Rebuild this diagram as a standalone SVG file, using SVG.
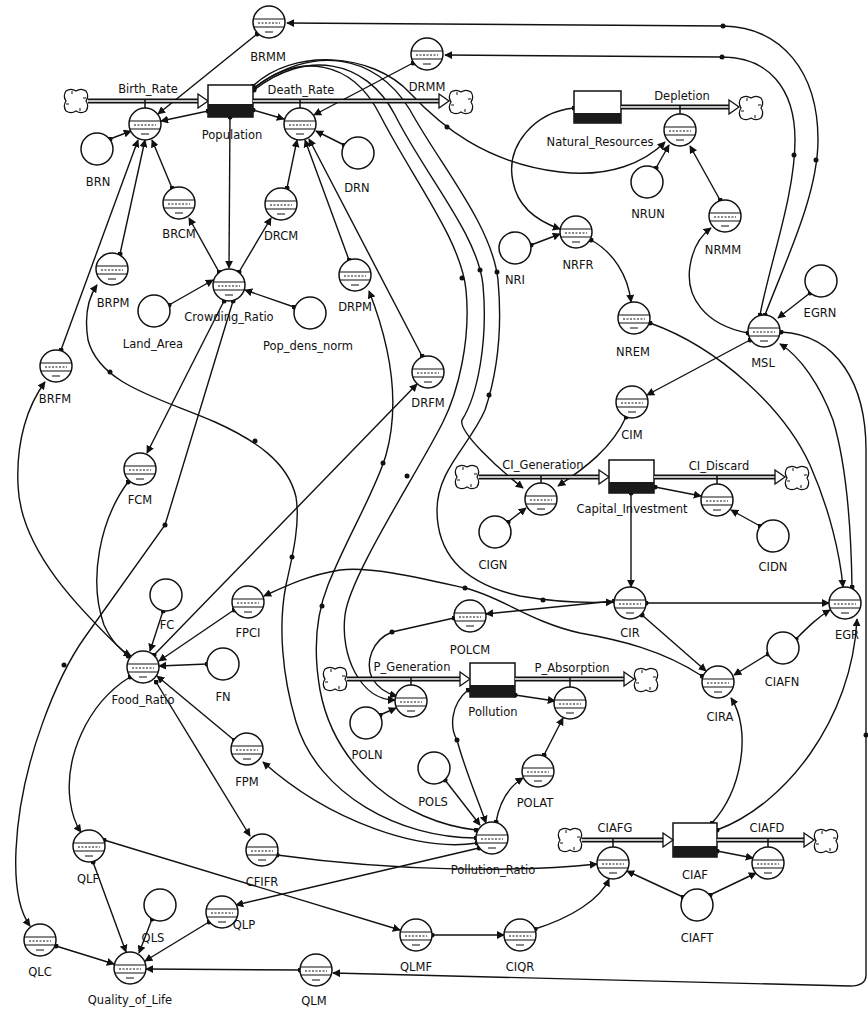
<svg xmlns="http://www.w3.org/2000/svg" xmlns:xlink="http://www.w3.org/1999/xlink" width="868" height="1018" viewBox="0 0 868 1018">
<style>
text{font-family:"DejaVu Sans",sans-serif;font-size:11.5px;fill:#111;text-anchor:middle}
.c{fill:none;stroke:#111;stroke-width:1.4;marker-start:url(#od);marker-end:url(#ah)}
.pipe{fill:none;stroke:#111;stroke-width:5}
.pipei{fill:none;stroke:#fff;stroke-width:1.3}
.fa{fill:#fff;stroke:#111;stroke-width:1.3}
.stem{stroke:#111;stroke-width:1.5}
.st{fill:#fff;stroke:#111;stroke-width:1.5}
.sd{fill:#1a1a1a}
.dot{fill:#111}
</style>
<defs>
<marker id="ah" viewBox="0 0 10 10" refX="9" refY="5" markerWidth="8" markerHeight="8" markerUnits="userSpaceOnUse" orient="auto"><path d="M0,0L10,5L0,10z" fill="#111"/></marker>
<marker id="od" viewBox="0 0 6 6" refX="3" refY="3" markerWidth="5" markerHeight="5" markerUnits="userSpaceOnUse"><circle cx="3" cy="3" r="3" fill="#111"/></marker>
<g id="gc"><circle r="16" fill="#fff" stroke="#111" stroke-width="1.5"/><path d="M-15,-3H15M-15,5H15M-4,10H4" stroke="#111" stroke-width="1.1" fill="none"/><path d="M-11,1H11" stroke="#111" stroke-width="1.1" stroke-dasharray="2 1.5"/></g>
<g id="pc"><circle r="16" fill="#fff" stroke="#111" stroke-width="1.5"/></g>
<g id="cl"><path d="M-10,-10A9,9 0 0 1 0,-10A9,9 0 0 1 10,-10A9,9 0 0 1 10,0A9,9 0 0 1 10,10A9,9 0 0 1 0,10A9,9 0 0 1 -10,10A9,9 0 0 1 -10,0A9,9 0 0 1 -10,-10Z" fill="#fff" stroke="#111" stroke-width="1.3"/><path d="M-4,-10V-7M4,10V7M10,-3H7M-10,3H-7" stroke="#111" stroke-width="1"/></g>
</defs>
<rect width="868" height="1018" fill="#fff"/>

<g id="connectors">
<path class="c" d="M257,34L158,114"/>
<path class="c" d="M765,315C785,262 818,195 818,140C818,72 782,27 723,26L287,23"/>
<path class="c" d="M760,315C770,262 795,195 795,140C795,88 768,57 722,57L445,55"/>
<path class="c" d="M208,111L161,121"/>
<path class="c" d="M110,139L131,131"/>
<path class="c" d="M61,350L138,140"/>
<path class="c" d="M120,254L145,140"/>
<path class="c" d="M172,188L152,140"/>
<path class="c" d="M253,110L284,119"/>
<path class="c" d="M413,63L314,115"/>
<path class="c" d="M344,145L316,131"/>
<path class="c" d="M287,188L297,140"/>
<path class="c" d="M349,260L305,140"/>
<path class="c" d="M422,356L309,139"/>
<path class="c" d="M230,117L229,268"/>
<path class="c" d="M169,305L213,280"/>
<path class="c" d="M294,307L245,290"/>
<path class="c" d="M219,272L189,218"/>
<path class="c" d="M239,272L271,218"/>
<path class="c" d="M224,301L147,453"/>
<path class="c" d="M233,301L165,525L85,637C60,672 20,760 16,850C14,895 22,915 30,926"/>
<path class="c" d="M128,656C80,610 20,550 18,485C16,440 28,405 45,382"/>
<path class="c" d="M476,838C400,838 318,795 296,722C282,675 278,625 286,585C294,550 300,522 296,497C288,462 255,440 215,422C160,398 100,385 88,340C84,315 88,298 97,285"/>
<path class="c" d="M476,830C405,822 335,770 320,690C313,650 316,615 328,585C348,535 375,492 386,455C398,412 396,360 369,291"/>
<path class="c" d="M253,86C292,48 372,52 410,93C440,125 485,163 560,172C610,178 645,162 665,142"/>
<path class="c" d="M254,88C300,52 352,60 380,115C414,181 461,240 466,290C471,340 458,392 443,422C418,472 350,575 345,615C340,655 360,700 395,700"/>
<path class="c" d="M254,90C305,50 365,58 395,115C425,175 478,235 483,285C488,340 478,395 462,420C458,432 500,470 523,488"/>
<path class="c" d="M254,88C310,45 375,52 410,110C440,165 492,225 498,280C503,335 495,380 485,410C470,445 437,470 437,510C437,560 470,585 520,596C560,603 590,603 613,602"/>
<path class="c" d="M574,108C535,112 505,145 513,182C518,208 540,222 560,229"/>
<path class="c" d="M531,245L560,234"/>
<path class="c" d="M591,240C613,252 628,275 631,302"/>
<path class="c" d="M656,168L669,145"/>
<path class="c" d="M720,200L690,146"/>
<path class="c" d="M748,333C705,325 685,297 690,266C693,247 700,236 711,228"/>
<path class="c" d="M810,293L778,318"/>
<path class="c" d="M750,340L647,395"/>
<path class="c" d="M650,323C720,348 785,410 810,465C830,510 840,555 843,587"/>
<path class="c" d="M852,587C851,520 845,460 833,420C820,385 800,356 780,344"/>
<path class="c" d="M781,332C838,335 866,385 866,450L866,975C866,983 860,986 850,986L333,973"/>
<path class="c" d="M655,487L701,496"/>
<path class="c" d="M760,526L731,510"/>
<path class="c" d="M508,522L526,508"/>
<path class="c" d="M626,417C612,448 585,468 558,486"/>
<path class="c" d="M631,493L631,587"/>
<path class="c" d="M646,603L829,603"/>
<path class="c" d="M614,601L486,614"/>
<path class="c" d="M642,615L706,671"/>
<path class="c" d="M768,654L734,675"/>
<path class="c" d="M702,676C662,650 620,640 580,633C530,622 500,596 465,588C420,578 370,566 340,570C310,575 290,584 264,596"/>
<path class="c" d="M712,823C742,790 752,730 731,698"/>
<path class="c" d="M717,830C785,805 852,720 857,619"/>
<path class="c" d="M796,639C808,627 818,617 830,610"/>
<path class="c" d="M515,695L555,701"/>
<path class="c" d="M544,755L563,718"/>
<path class="c" d="M496,822C500,800 510,786 523,778"/>
<path class="c" d="M468,690C450,705 450,728 457,740C465,770 478,800 486,823"/>
<path class="c" d="M445,780L480,825"/>
<path class="c" d="M380,715L396,708"/>
<path class="c" d="M454,618L392,632C372,640 365,662 372,678C378,688 388,694 397,696"/>
<path class="c" d="M163,611L150,651"/>
<path class="c" d="M234,610L159,661"/>
<path class="c" d="M128,482C100,520 88,580 104,625C112,642 120,650 131,656"/>
<path class="c" d="M207,664L159,666"/>
<path class="c" d="M234,740L157,676"/>
<path class="c" d="M477,843C420,852 330,822 263,762"/>
<path class="c" d="M154,655L417,384"/>
<path class="c" d="M130,677C85,705 65,760 70,800C72,815 76,825 81,832"/>
<path class="c" d="M156,682L250,836"/>
<path class="c" d="M683,897L627,871"/>
<path class="c" d="M710,895L756,873"/>
<path class="c" d="M717,851L753,858"/>
<path class="c" d="M535,929C570,918 600,900 609,879"/>
<path class="c" d="M432,935L504,935"/>
<path class="c" d="M104,840L400,930"/>
<path class="c" d="M277,855C400,872 520,872 597,864"/>
<path class="c" d="M479,848L236,905"/>
<path class="c" d="M209,922L145,961"/>
<path class="c" d="M152,919L139,953"/>
<path class="c" d="M56,946L114,964"/>
<path class="c" d="M93,862L126,952"/>
<path class="c" d="M300,970L146,969"/>
<g class="dot">
<circle cx="723" cy="26" r="2.5"/><circle cx="816" cy="160" r="2.5"/>
<circle cx="722" cy="57" r="2.5"/><circle cx="794" cy="155" r="2.5"/>
<circle cx="165" cy="525" r="2.5"/><circle cx="64" cy="665" r="2.5"/>
<circle cx="110" cy="372" r="2.5"/><circle cx="255" cy="441" r="2.5"/><circle cx="292" cy="557" r="2.5"/>
<circle cx="383" cy="463" r="2.5"/><circle cx="322" cy="606" r="2.5"/>
<circle cx="447" cy="127" r="2.5"/>
<circle cx="462" cy="278" r="2.5"/><circle cx="407" cy="476" r="2.5"/>
<circle cx="480" cy="270" r="2.5"/>
<circle cx="497" cy="272" r="2.5"/><circle cx="489" cy="395" r="2.5"/><circle cx="543" cy="600" r="2.5"/>
<circle cx="465" cy="588" r="2.5"/><circle cx="392" cy="632" r="2.5"/>
<circle cx="457" cy="740" r="2.5"/><circle cx="866" cy="735" r="2.5"/>
</g>
</g>

<g id="BRMM"><use xlink:href="#gc" transform="translate(269,22)"/><text x="268" y="61">BRMM</text></g>
<g id="DRMM"><use xlink:href="#gc" transform="translate(427,54)"/><text x="427" y="91">DRMM</text></g>
<g id="Birth_Rate">
<path class="pipe" d="M88,101H200"/><path class="pipei" d="M88,101H200"/><path class="fa" d="M198,94L208,101L198,108Z"/>
<use xlink:href="#cl" transform="translate(76,101)"/>
<path class="stem" d="M145,99V108"/>
<use xlink:href="#gc" transform="translate(145,124)"/>
<text x="148" y="93">Birth_Rate</text></g>
<g id="Population"><rect class="st" x="208" y="85" width="45" height="32"/><rect class="sd" x="208" y="104" width="45" height="13"/><text x="232" y="139">Population</text></g>
<g id="Death_Rate">
<path class="pipe" d="M253,101H441"/><path class="pipei" d="M253,101H441"/><path class="fa" d="M439,94L449,101L439,108Z"/>
<use xlink:href="#cl" transform="translate(461,102)"/>
<path class="stem" d="M300,99V108"/>
<use xlink:href="#gc" transform="translate(300,124)"/>
<text x="301" y="94">Death_Rate</text></g>
<g id="BRN"><use xlink:href="#pc" transform="translate(97,149)"/><text x="98" y="186">BRN</text></g>
<g id="DRN"><use xlink:href="#pc" transform="translate(358,153)"/><text x="357" y="192">DRN</text></g>
<g id="BRCM"><use xlink:href="#gc" transform="translate(179,203)"/><text x="179" y="238">BRCM</text></g>
<g id="DRCM"><use xlink:href="#gc" transform="translate(281,204)"/><text x="281" y="240">DRCM</text></g>
<g id="Crowding_Ratio"><use xlink:href="#gc" transform="translate(229,285)"/><text x="229" y="321">Crowding_Ratio</text></g>
<g id="Land_Area"><use xlink:href="#pc" transform="translate(154,311)"/><text x="153" y="348">Land_Area</text></g>
<g id="Pop_dens_norm"><use xlink:href="#pc" transform="translate(310,313)"/><text x="308" y="350">Pop_dens_norm</text></g>
<g id="BRPM"><use xlink:href="#gc" transform="translate(112,269)"/><text x="113" y="307">BRPM</text></g>
<g id="BRFM"><use xlink:href="#gc" transform="translate(56,366)"/><text x="55" y="403">BRFM</text></g>
<g id="DRPM"><use xlink:href="#gc" transform="translate(355,275)"/><text x="355" y="311">DRPM</text></g>
<g id="DRFM"><use xlink:href="#gc" transform="translate(428,372)"/><text x="428" y="407">DRFM</text></g>
<g id="Natural_Resources"><rect class="st" x="574" y="91" width="47" height="32"/><rect class="sd" x="574" y="113" width="47" height="10"/><text x="600" y="146">Natural_Resources</text></g>
<g id="Depletion">
<path class="pipe" d="M621,107H731"/><path class="pipei" d="M621,107H731"/><path class="fa" d="M729,100L739,107L729,114Z"/>
<use xlink:href="#cl" transform="translate(751,108)"/>
<path class="stem" d="M680,105V114"/>
<use xlink:href="#gc" transform="translate(680,130)"/>
<text x="682" y="100">Depletion</text></g>
<g id="NRUN"><use xlink:href="#pc" transform="translate(647,182)"/><text x="648" y="218">NRUN</text></g>
<g id="NRMM"><use xlink:href="#gc" transform="translate(725,216)"/><text x="723" y="254">NRMM</text></g>
<g id="NRI"><use xlink:href="#pc" transform="translate(515,248)"/><text x="515" y="284">NRI</text></g>
<g id="NRFR"><use xlink:href="#gc" transform="translate(576,232)"/><text x="578" y="269">NRFR</text></g>
<g id="NREM"><use xlink:href="#gc" transform="translate(634,318)"/><text x="633" y="356">NREM</text></g>
<g id="MSL"><use xlink:href="#gc" transform="translate(764,331)"/><text x="763" y="367">MSL</text></g>
<g id="EGRN"><use xlink:href="#pc" transform="translate(821,281)"/><text x="820" y="317">EGRN</text></g>
<g id="CIM"><use xlink:href="#gc" transform="translate(632,402)"/><text x="632" y="439">CIM</text></g>
<g id="CI_Generation">
<path class="pipe" d="M479,477H601"/><path class="pipei" d="M479,477H601"/><path class="fa" d="M599,470L609,477L599,484Z"/>
<use xlink:href="#cl" transform="translate(467,477)"/>
<path class="stem" d="M541,475V483"/>
<use xlink:href="#gc" transform="translate(541,499)"/>
<text x="543" y="469">CI_Generation</text></g>
<g id="Capital_Investment"><rect class="st" x="609" y="460" width="45" height="33"/><rect class="sd" x="609" y="482" width="45" height="11"/><text x="632" y="513">Capital_Investment</text></g>
<g id="CI_Discard">
<path class="pipe" d="M654,477H777"/><path class="pipei" d="M654,477H777"/><path class="fa" d="M775,470L785,477L775,484Z"/>
<use xlink:href="#cl" transform="translate(797,478)"/>
<path class="stem" d="M717,475V484"/>
<use xlink:href="#gc" transform="translate(717,500)"/>
<text x="719" y="470">CI_Discard</text></g>
<g id="CIGN"><use xlink:href="#pc" transform="translate(495,532)"/><text x="493" y="569">CIGN</text></g>
<g id="CIDN"><use xlink:href="#pc" transform="translate(773,536)"/><text x="773" y="571">CIDN</text></g>
<g id="CIR"><use xlink:href="#gc" transform="translate(630,603)"/><text x="630" y="637">CIR</text></g>
<g id="EGR"><use xlink:href="#gc" transform="translate(845,603)"/><text x="847" y="639">EGR</text></g>
<g id="POLCM"><use xlink:href="#gc" transform="translate(470,616)"/><text x="470" y="654">POLCM</text></g>
<g id="FC"><use xlink:href="#pc" transform="translate(166,595)"/><text x="167" y="629">FC</text></g>
<g id="FPCI"><use xlink:href="#gc" transform="translate(248,602)"/><text x="248" y="637">FPCI</text></g>
<g id="FCM"><use xlink:href="#gc" transform="translate(140,469)"/><text x="140" y="504">FCM</text></g>
<g id="Food_Ratio"><use xlink:href="#gc" transform="translate(143,667)"/><text x="143" y="704">Food_Ratio</text></g>
<g id="FN"><use xlink:href="#pc" transform="translate(223,664)"/><text x="223" y="701">FN</text></g>
<g id="FPM"><use xlink:href="#gc" transform="translate(247,749)"/><text x="247" y="786">FPM</text></g>
<g id="P_Generation">
<path class="pipe" d="M347,679H462"/><path class="pipei" d="M347,679H462"/><path class="fa" d="M460,672L470,679L460,686Z"/>
<use xlink:href="#cl" transform="translate(335,679)"/>
<path class="stem" d="M411,677V685"/>
<use xlink:href="#gc" transform="translate(411,701)"/>
<text x="412" y="671">P_Generation</text></g>
<g id="Pollution"><rect class="st" x="470" y="663" width="45" height="34"/><rect class="sd" x="470" y="685" width="45" height="12"/><text x="493" y="716">Pollution</text></g>
<g id="P_Absorption">
<path class="pipe" d="M515,679H626"/><path class="pipei" d="M515,679H626"/><path class="fa" d="M624,672L634,679L624,686Z"/>
<use xlink:href="#cl" transform="translate(646,680)"/>
<path class="stem" d="M570,677V687"/>
<use xlink:href="#gc" transform="translate(570,703)"/>
<text x="572" y="672">P_Absorption</text></g>
<g id="POLN"><use xlink:href="#pc" transform="translate(366,723)"/><text x="367" y="759">POLN</text></g>
<g id="POLS"><use xlink:href="#pc" transform="translate(434,768)"/><text x="433" y="806">POLS</text></g>
<g id="POLAT"><use xlink:href="#gc" transform="translate(538,771)"/><text x="535" y="807">POLAT</text></g>
<g id="Pollution_Ratio"><use xlink:href="#gc" transform="translate(492,838)"/><text x="493" y="874">Pollution_Ratio</text></g>
<g id="CIRA"><use xlink:href="#gc" transform="translate(718,682)"/><text x="720" y="721">CIRA</text></g>
<g id="CIAFN"><use xlink:href="#pc" transform="translate(783,648)"/><text x="782" y="686">CIAFN</text></g>
<g id="CIAF"><rect class="st" x="673" y="823" width="44" height="34"/><rect class="sd" x="673" y="846" width="44" height="11"/><text x="695" y="879">CIAF</text></g>
<g id="CIAFG">
<path class="pipe" d="M582,840H665"/><path class="pipei" d="M582,840H665"/><path class="fa" d="M663,833L673,840L663,847Z"/>
<use xlink:href="#cl" transform="translate(570,840)"/>
<path class="stem" d="M613,838V847"/>
<use xlink:href="#gc" transform="translate(613,863)"/>
<text x="615" y="832">CIAFG</text></g>
<g id="CIAFD">
<path class="pipe" d="M717,840H806"/><path class="pipei" d="M717,840H806"/><path class="fa" d="M804,833L814,840L804,847Z"/>
<use xlink:href="#cl" transform="translate(826,841)"/>
<path class="stem" d="M768,838V847"/>
<use xlink:href="#gc" transform="translate(768,863)"/>
<text x="767" y="832">CIAFD</text></g>
<g id="QLF"><use xlink:href="#gc" transform="translate(89,846)"/><text x="88" y="883">QLF</text></g>
<g id="CFIFR"><use xlink:href="#gc" transform="translate(262,850)"/><text x="262" y="886">CFIFR</text></g>
<g id="QLS"><use xlink:href="#pc" transform="translate(160,905)"/><text x="153" y="942">QLS</text></g>
<g id="QLP"><use xlink:href="#gc" transform="translate(222,912)"/><text x="244" y="929">QLP</text></g>
<g id="QLC"><use xlink:href="#gc" transform="translate(40,940)"/><text x="40" y="976">QLC</text></g>
<g id="Quality_of_Life"><use xlink:href="#gc" transform="translate(130,968)"/><text x="130" y="1004">Quality_of_Life</text></g>
<g id="QLM"><use xlink:href="#gc" transform="translate(316,970)"/><text x="314" y="1005">QLM</text></g>
<g id="QLMF"><use xlink:href="#gc" transform="translate(416,935)"/><text x="416" y="971">QLMF</text></g>
<g id="CIQR"><use xlink:href="#gc" transform="translate(520,935)"/><text x="520" y="971">CIQR</text></g>
<g id="CIAFT"><use xlink:href="#pc" transform="translate(697,905)"/><text x="697" y="942">CIAFT</text></g>
</svg>
